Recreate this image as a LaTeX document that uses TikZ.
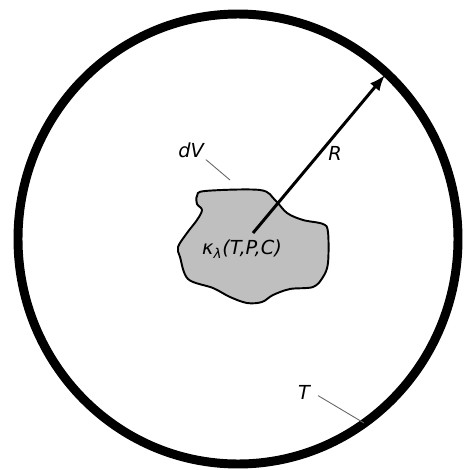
\documentclass[tikz,border=0pt]{standalone}
\usepackage{fontspec}
\setmainfont{DejaVu Sans}
\usetikzlibrary{arrows.meta}
\tikzset{
  lbl/.style={font=\fontsize{11pt}{13pt}\selectfont\itshape, inner sep=1pt},
  leader/.style={draw=black!60, line width=0.5pt}
}
\begin{document}
\begin{tikzpicture}[x=0.02cm, y=-0.02cm]
    \useasboundingbox (0,0) rectangle (465,470);

    % 1. FRONTERA EXTERIOR
    \draw[line width=5.1pt] (238,239) ellipse [x radius=220, y radius=225];

    % 2. ELEMENTO DE VOLUMEN
    \draw[fill=black!25, line width=1.1pt] plot[smooth cycle, tension=0.55] coordinates {
        (197,196) (205,191) (260,190) (275,200) (287,213) (303,220) (323,224)
        (328,232) (328,263) (323,277) (313,287) (290,289) (273,295) (262,302)
        (247,303) (230,297) (213,288) (188,279) (180,257) (178,247) (187,233)
        (197,220) (202,210) (197,204)};

    % 3. RADIO
    \coordinate (centro) at (253,233);
    \coordinate (borde) at (385,75);
    \draw[line width=1.7pt, -{Latex[length=9pt, width=7pt]}] (centro) -- (borde);

    % 4. ETIQUETAS
    \node[lbl] (dV) at (191,150) {dV};
    \node[lbl] (R) at (335,153) {R};
    \node[lbl] (kappa) at (242,249) {κ\textsubscript{λ}(T,P,C)};
    \node[lbl] (T) at (304,392) {T};

    % 5. LINEAS GUIA
    \coordinate (dVfin) at (230,180);
    \coordinate (Tfin) at (364,423);
    \draw[leader] (dV.south east) -- (dVfin);
    \draw[leader, shorten <=4pt] (T.east) -- (Tfin);

\end{tikzpicture}
\end{document}
